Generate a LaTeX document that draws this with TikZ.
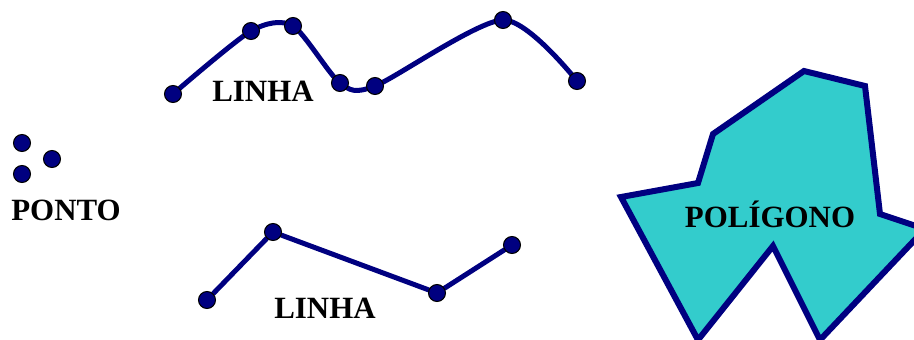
\documentclass[tikz,border=0pt]{standalone}
\usepackage{fontspec}
\setmainfont{Liberation Serif}
\usetikzlibrary{backgrounds}
\definecolor{navycolor}{RGB}{0,0,128}
\definecolor{polycolor}{RGB}{51,204,204}
\tikzset{
  ptdot/.style={circle, draw=black, line width=0.6pt, fill=navycolor,
    minimum size=0.34cm, inner sep=0pt},
  curveln/.style={navycolor, line width=0.1cm, line cap=round, line join=round},
  polyln/.style={draw=navycolor, fill=polycolor, line width=0.12cm, line join=miter},
  lbl/.style={font=\fontsize{17.6}{20}\selectfont\bfseries, inner sep=0pt, anchor=base},
}

\begin{document}
\begin{tikzpicture}[x=0.02cm, y=-0.02cm]
    \useasboundingbox (0,0) rectangle (914,339);
    % Points
    \node[ptdot] (p1) at (22,143) {};
    \node[ptdot] (p2) at (52,159) {};
    \node[ptdot] (p3) at (22,174) {};
    \node[lbl] (ponto) at (66,220) {PONTO};
    % Smooth line
    \foreach \n/\x/\y in {1/173/94, 2/251/31, 3/293/26, 4/340/83,
                          5/375/86, 6/503/20, 7/577/81}
      \node[ptdot] (a\n) at (\x,\y) {};
    \node[lbl] (linhaA) at (263,101) {LINHA};
    % Broken line
    \foreach \n/\x/\y in {1/207/300, 2/273/232, 3/437/293, 4/512/245}
      \node[ptdot] (b\n) at (\x,\y) {};
    \node[lbl] (linhaB) at (325,318) {LINHA};
    \begin{scope}[on background layer]
      \draw[curveln] plot[smooth, tension=0.45]
        coordinates {(a1) (a2) (a3) (a4) (a5) (a6) (a7)};
      \draw[curveln] (b1) -- (b2) -- (b3) -- (b4);
    \end{scope}
    % Polygon
    \begin{scope}
      \clip (0,0) rectangle (914,339);
      \draw[polyln] (621,197) -- (698,183) -- (713,134) -- (804,71)
        -- (865,86) -- (880,214) -- (925,229) -- (820,340)
        -- (773,246) -- (698,340) -- cycle;
    \end{scope}
    \node[lbl] (poly) at (770,227) {POLÍGONO};
\end{tikzpicture}
\end{document}
